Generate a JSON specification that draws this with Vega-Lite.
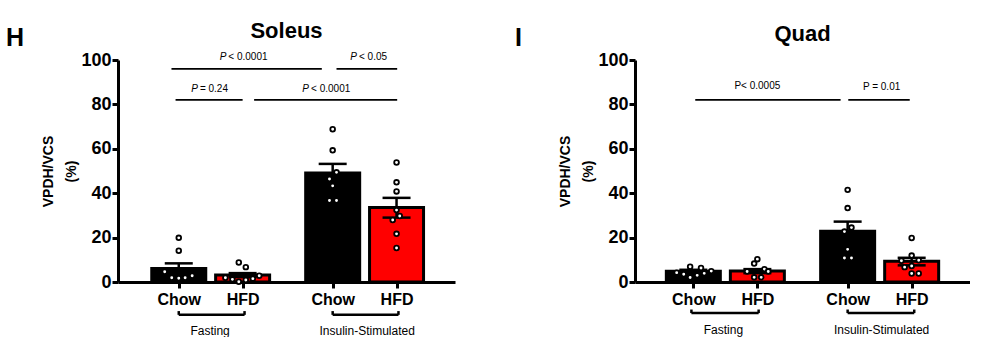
{
  "$schema": "https://vega.github.io/schema/vega-lite/v6.json",
  "padding": {"left": 6, "top": 19, "right": 0, "bottom": 0},
  "background": "white",
  "config": {
    "font": "Liberation Sans",
    "view": {"stroke": null},
    "title": {"font": "Liberation Sans", "color": "black", "fontWeight": "bold", "frame": "group"},
    "axis": {"domainColor": "black", "domainWidth": 3, "tickColor": "black", "tickWidth": 3, "tickSize": 6, "labelColor": "black", "labelFont": "Liberation Sans", "labelFontWeight": "bold", "grid": false, "titleColor": "black", "titleFont": "Liberation Sans", "labelFlush": false},
    "axisY": {"titleLineHeight": 23}
  },
  "datasets": {
    "sol_bars": [
      {"pos": 1, "diet": "Chow", "mean": 6.1, "lo": 3.8, "hi": 8.4},
      {"pos": 2, "diet": "HFD", "mean": 3.1, "lo": 2.2, "hi": 4.0},
      {"pos": 3.41, "diet": "Chow", "mean": 49.1, "lo": 45.0, "hi": 53.2},
      {"pos": 4.41, "diet": "HFD", "mean": 33.6, "lo": 29.0, "hi": 37.9}
    ],
    "quad_bars": [
      {"pos": 1, "diet": "Chow", "mean": 4.8, "lo": 4.1, "hi": 5.5},
      {"pos": 2, "diet": "HFD", "mean": 4.9, "lo": 4.0, "hi": 5.8},
      {"pos": 3.41, "diet": "Chow", "mean": 22.9, "lo": 18.6, "hi": 27.2},
      {"pos": 4.41, "diet": "HFD", "mean": 9.3, "lo": 7.5, "hi": 10.9}
    ],
    "sol_pts": [
      {"x": 1.0, "v": 19.9}, {"x": 1.0, "v": 14.1}, {"x": 0.78, "v": 4.6}, {"x": 0.89, "v": 1.9}, {"x": 1.0, "v": 1.7}, {"x": 1.1, "v": 1.9}, {"x": 1.21, "v": 2.8},
      {"x": 1.94, "v": 8.8}, {"x": 2.05, "v": 6.7}, {"x": 1.73, "v": 1.9}, {"x": 1.84, "v": 1.2}, {"x": 1.94, "v": 0.1}, {"x": 2.05, "v": 0.9}, {"x": 2.16, "v": 1.5}, {"x": 2.26, "v": 2.8},
      {"x": 3.41, "v": 68.8}, {"x": 3.41, "v": 59.3}, {"x": 3.47, "v": 49.4}, {"x": 3.36, "v": 46.4}, {"x": 3.41, "v": 43.3}, {"x": 3.36, "v": 36.7}, {"x": 3.47, "v": 36.7},
      {"x": 4.41, "v": 53.8}, {"x": 4.41, "v": 44.9}, {"x": 4.41, "v": 40.8}, {"x": 4.41, "v": 32.4}, {"x": 4.46, "v": 29.7}, {"x": 4.35, "v": 27.9}, {"x": 4.41, "v": 21.7}, {"x": 4.41, "v": 15.3}
    ],
    "quad_pts": [
      {"x": 0.74, "v": 4.2}, {"x": 0.85, "v": 3.5}, {"x": 0.95, "v": 6.9}, {"x": 0.95, "v": 2.0}, {"x": 1.06, "v": 3.0}, {"x": 1.12, "v": 6.3}, {"x": 1.17, "v": 3.9}, {"x": 1.28, "v": 4.9},
      {"x": 2.0, "v": 10.3}, {"x": 1.95, "v": 8.3}, {"x": 1.84, "v": 4.7}, {"x": 2.11, "v": 5.8}, {"x": 2.17, "v": 4.7}, {"x": 1.95, "v": 2.1}, {"x": 2.06, "v": 2.1},
      {"x": 3.41, "v": 41.5}, {"x": 3.41, "v": 33.3}, {"x": 3.36, "v": 22.7}, {"x": 3.47, "v": 24.5}, {"x": 3.41, "v": 14.7}, {"x": 3.36, "v": 10.8}, {"x": 3.47, "v": 10.8},
      {"x": 4.41, "v": 19.8}, {"x": 4.41, "v": 11.9}, {"x": 4.25, "v": 9.6}, {"x": 4.52, "v": 9.8}, {"x": 4.3, "v": 6.7}, {"x": 4.41, "v": 7.2}, {"x": 4.41, "v": 3.8}, {"x": 4.52, "v": 3.8}
    ],
    "sol_sig": [
      {"x1": 0.886, "x2": 3.24, "y": 96}, {"x1": 3.47, "x2": 4.42, "y": 96},
      {"x1": 0.95, "x2": 2.0, "y": 82}, {"x1": 2.18, "x2": 4.42, "y": 82}
    ],
    "sol_sigt": [
      {"x": 1.745, "y": 101.3, "p": "P", "rest": "< 0.0001"},
      {"x": 3.79, "y": 101.3, "p": "P", "rest": "< 0.05"},
      {"x": 1.3, "y": 87, "p": "P", "rest": "= 0.24"},
      {"x": 3.04, "y": 87, "p": "P", "rest": "< 0.0001"}
    ],
    "quad_sig": [
      {"x1": 1.03, "x2": 3.3, "y": 82}, {"x1": 3.42, "x2": 4.38, "y": 82}
    ],
    "quad_sigt": [
      {"x": 2.0, "y": 88.4, "t": "P< 0.0005"}, {"x": 3.94, "y": 87.7, "t": "P = 0.01"}
    ],
    "sol_brk": [
      {"x1": 1.0, "x2": 2.03, "lx": 1.49, "t": "Fasting"},
      {"x1": 3.41, "x2": 4.44, "lx": 3.95, "t": "Insulin-Stimulated"}
    ],
    "quad_brk": [
      {"x1": 0.97, "x2": 2.02, "lx": 1.47, "t": "Fasting"},
      {"x1": 3.41, "x2": 4.45, "lx": 3.94, "t": "Insulin-Stimulated"}
    ]
  },
  "bounds": "flush",
  "spacing": 60,
  "hconcat": [
    {
      "width": 52, "height": 222,
      "title": {"text": "H", "anchor": "start", "fontSize": 25, "offset": 9},
      "data": {"values": []},
      "mark": {"type": "text"},
      "encoding": {}
    },
    {
      "width": 337, "height": 222,
      "title": {"text": "Soleus", "fontSize": 22, "offset": 8.5},
      "layer": [
        {
          "data": {"name": "sol_bars"},
          "mark": {"type": "bar", "size": 54, "stroke": "black", "strokeWidth": 3},
          "encoding": {
            "x": {"field": "pos", "type": "quantitative", "scale": {"domain": [0.127, 5.247], "nice": false, "zero": false},
                  "axis": {"title": null, "values": [1, 2, 3.41, 4.41], "labelExpr": "datum.value < 1.5 || (datum.value > 3 && datum.value < 4) ? 'Chow' : 'HFD'", "labelFontSize": 16, "labelPadding": 3}},
            "y": {"field": "mean", "type": "quantitative", "scale": {"domain": [0, 100], "nice": false},
                  "axis": {"title": ["VPDH/VCS", "(%)"], "values": [0, 20, 40, 60, 80, 100], "labelFontSize": 18, "labelPadding": 1, "titleFontSize": 14, "titleFontWeight": "bold", "titleLineHeight": 23, "titlePadding": 2}},
            "color": {"field": "diet", "type": "nominal", "scale": {"domain": ["Chow", "HFD"], "range": ["#000000", "#ff0000"]}, "legend": null}
          }
        },
        {
          "data": {"name": "sol_sig"},
          "mark": {"type": "rule", "strokeWidth": 1.8, "color": "black"},
          "encoding": {"x": {"field": "x1", "type": "quantitative"}, "x2": {"field": "x2"}, "y": {"field": "y", "type": "quantitative"}}
        },
        {
          "data": {"name": "sol_sigt"},
          "mark": {"type": "text", "align": "right", "baseline": "middle", "fontSize": 10, "fontStyle": "italic", "color": "black"},
          "encoding": {"x": {"field": "x", "type": "quantitative"}, "y": {"field": "y", "type": "quantitative"}, "text": {"field": "p"}}
        },
        {
          "data": {"name": "sol_sigt"},
          "mark": {"type": "text", "align": "left", "baseline": "middle", "fontSize": 10, "dx": 2, "color": "black"},
          "encoding": {"x": {"field": "x", "type": "quantitative"}, "y": {"field": "y", "type": "quantitative"}, "text": {"field": "rest"}}
        },
        {
          "data": {"name": "sol_bars"},
          "mark": {"type": "rule", "strokeWidth": 2.5, "color": "black"},
          "encoding": {"x": {"field": "pos", "type": "quantitative"}, "y": {"field": "lo", "type": "quantitative"}, "y2": {"field": "hi"}}
        },
        {
          "data": {"name": "sol_bars"},
          "mark": {"type": "tick", "orient": "horizontal", "size": 28, "thickness": 2.5, "color": "black", "opacity": 1},
          "encoding": {"x": {"field": "pos", "type": "quantitative"}, "y": {"field": "hi", "type": "quantitative"}}
        },
        {
          "data": {"name": "sol_bars"},
          "mark": {"type": "tick", "orient": "horizontal", "size": 28, "thickness": 2.5, "color": "black", "opacity": 1},
          "encoding": {"x": {"field": "pos", "type": "quantitative"}, "y": {"field": "lo", "type": "quantitative"}}
        },
        {
          "data": {"name": "sol_pts"},
          "mark": {"type": "point", "shape": "circle", "filled": true, "fill": "white", "stroke": "black", "strokeWidth": 1.8, "size": 22, "opacity": 1},
          "encoding": {"x": {"field": "x", "type": "quantitative"}, "y": {"field": "v", "type": "quantitative"}}
        },
        {
          "data": {"name": "sol_brk"},
          "mark": {"type": "rule", "strokeWidth": 2.5, "color": "black"},
          "encoding": {"x": {"field": "x1", "type": "quantitative"}, "x2": {"field": "x2"}, "y": {"datum": -14.8, "type": "quantitative"}}
        },
        {
          "data": {"name": "sol_brk"},
          "mark": {"type": "rule", "strokeWidth": 2.5, "color": "black"},
          "encoding": {"x": {"field": "x1", "type": "quantitative"}, "y": {"datum": -14.8, "type": "quantitative"}, "y2": {"datum": -13.1}}
        },
        {
          "data": {"name": "sol_brk"},
          "mark": {"type": "rule", "strokeWidth": 2.5, "color": "black"},
          "encoding": {"x": {"field": "x2", "type": "quantitative"}, "y": {"datum": -14.8, "type": "quantitative"}, "y2": {"datum": -13.1}}
        },
        {
          "data": {"name": "sol_brk"},
          "mark": {"type": "text", "baseline": "middle", "fontSize": 12, "color": "black"},
          "encoding": {"x": {"field": "lx", "type": "quantitative"}, "y": {"datum": -22, "type": "quantitative"}, "text": {"field": "t"}}
        }
      ]
    },
    {
      "width": 60, "height": 222,
      "title": {"text": "I", "anchor": "start", "fontSize": 25, "offset": 9},
      "data": {"values": []},
      "mark": {"type": "text"},
      "encoding": {}
    },
    {
      "width": 335, "height": 222,
      "title": {"text": "Quad", "fontSize": 22, "offset": 5},
      "layer": [
        {
          "data": {"name": "quad_bars"},
          "mark": {"type": "bar", "size": 54, "stroke": "black", "strokeWidth": 3},
          "encoding": {
            "x": {"field": "pos", "type": "quantitative", "scale": {"domain": [0.167, 5.243], "nice": false, "zero": false},
                  "axis": {"title": null, "values": [1, 2, 3.41, 4.41], "labelExpr": "datum.value < 1.5 || (datum.value > 3 && datum.value < 4) ? 'Chow' : 'HFD'", "labelFontSize": 16, "labelPadding": 3}},
            "y": {"field": "mean", "type": "quantitative", "scale": {"domain": [0, 100], "nice": false},
                  "axis": {"title": ["VPDH/VCS", "(%)"], "values": [0, 20, 40, 60, 80, 100], "labelFontSize": 18, "labelPadding": 1, "titleFontSize": 14, "titleFontWeight": "bold", "titleLineHeight": 23, "titlePadding": 2}},
            "color": {"field": "diet", "type": "nominal", "scale": {"domain": ["Chow", "HFD"], "range": ["#000000", "#ff0000"]}, "legend": null}
          }
        },
        {
          "data": {"name": "quad_sig"},
          "mark": {"type": "rule", "strokeWidth": 1.8, "color": "black"},
          "encoding": {"x": {"field": "x1", "type": "quantitative"}, "x2": {"field": "x2"}, "y": {"field": "y", "type": "quantitative"}}
        },
        {
          "data": {"name": "quad_sigt"},
          "mark": {"type": "text", "align": "center", "baseline": "middle", "fontSize": 10, "color": "black"},
          "encoding": {"x": {"field": "x", "type": "quantitative"}, "y": {"field": "y", "type": "quantitative"}, "text": {"field": "t"}}
        },
        {
          "data": {"name": "quad_bars"},
          "mark": {"type": "rule", "strokeWidth": 2.5, "color": "black"},
          "encoding": {"x": {"field": "pos", "type": "quantitative"}, "y": {"field": "lo", "type": "quantitative"}, "y2": {"field": "hi"}}
        },
        {
          "data": {"name": "quad_bars"},
          "mark": {"type": "tick", "orient": "horizontal", "size": 28, "thickness": 2.5, "color": "black", "opacity": 1},
          "encoding": {"x": {"field": "pos", "type": "quantitative"}, "y": {"field": "hi", "type": "quantitative"}}
        },
        {
          "data": {"name": "quad_bars"},
          "mark": {"type": "tick", "orient": "horizontal", "size": 28, "thickness": 2.5, "color": "black", "opacity": 1},
          "encoding": {"x": {"field": "pos", "type": "quantitative"}, "y": {"field": "lo", "type": "quantitative"}}
        },
        {
          "data": {"name": "quad_pts"},
          "mark": {"type": "point", "shape": "circle", "filled": true, "fill": "white", "stroke": "black", "strokeWidth": 1.8, "size": 22, "opacity": 1},
          "encoding": {"x": {"field": "x", "type": "quantitative"}, "y": {"field": "v", "type": "quantitative"}}
        },
        {
          "data": {"name": "quad_brk"},
          "mark": {"type": "rule", "strokeWidth": 2.5, "color": "black"},
          "encoding": {"x": {"field": "x1", "type": "quantitative"}, "x2": {"field": "x2"}, "y": {"datum": -14.0, "type": "quantitative"}}
        },
        {
          "data": {"name": "quad_brk"},
          "mark": {"type": "rule", "strokeWidth": 2.5, "color": "black"},
          "encoding": {"x": {"field": "x1", "type": "quantitative"}, "y": {"datum": -14.0, "type": "quantitative"}, "y2": {"datum": -12.4}}
        },
        {
          "data": {"name": "quad_brk"},
          "mark": {"type": "rule", "strokeWidth": 2.5, "color": "black"},
          "encoding": {"x": {"field": "x2", "type": "quantitative"}, "y": {"datum": -14.0, "type": "quantitative"}, "y2": {"datum": -12.4}}
        },
        {
          "data": {"name": "quad_brk"},
          "mark": {"type": "text", "baseline": "middle", "fontSize": 12, "color": "black"},
          "encoding": {"x": {"field": "lx", "type": "quantitative"}, "y": {"datum": -21.7, "type": "quantitative"}, "text": {"field": "t"}}
        }
      ]
    }
  ]
}
